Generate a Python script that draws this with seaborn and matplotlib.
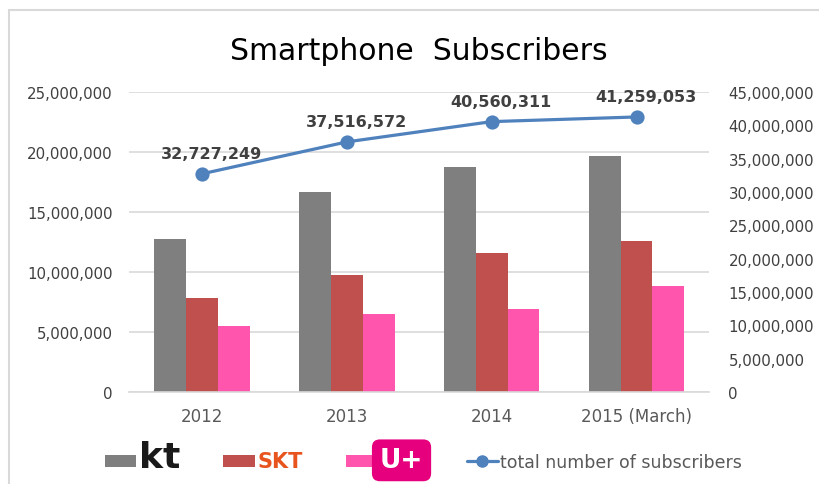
import numpy as np
import pandas as pd
import matplotlib
matplotlib.use("Agg")
import matplotlib.pyplot as plt
import seaborn as sns
from matplotlib.patches import Patch, Rectangle
from matplotlib.lines import Line2D
from matplotlib.ticker import FuncFormatter, MultipleLocator

# ---- data ----
years = ["2012", "2013", "2014", "2015 (March)"]
carriers = ["kt", "SKT", "U+"]
kt_subs = [12750000, 16700000, 18780000, 19690000]
skt_subs = [7800000, 9720000, 11580000, 12580000]
lgu_subs = [5530000, 6530000, 6890000, 8800000]
totals = [32727249, 37516572, 40560311, 41259053]
total_label = "total number of subscribers"
title = "Smartphone  Subscribers"

bar_colors = ["#7F7F7F", "#C0504D", "#FF55AC"]
line_color = "#4F81BD"

df = pd.DataFrame({
    "year": years * 3,
    "carrier": np.repeat(carriers, len(years)),
    "subs": kt_subs + skt_subs + lgu_subs,
})

sns.set_style("white")
plt.rcParams["font.family"] = ["DejaVu Sans"]

fig = plt.figure(figsize=(8.2, 4.85), dpi=100)
ax = fig.add_axes([0.1579, 0.1897, 0.7067, 0.6185])

sns.barplot(data=df, x="year", y="subs", hue="carrier", palette=bar_colors,
            width=0.66, gap=0, saturation=1, ax=ax, legend=False,
            edgecolor="none", linewidth=0, errorbar=None)
ax.set_ylim(0, 25000000)
ax.yaxis.set_major_locator(MultipleLocator(5000000))
fmt = FuncFormatter(lambda v, _: f"{int(round(v)):,}")
ax.yaxis.set_major_formatter(fmt)
ax.set_xlabel("")
ax.set_ylabel("")
ax.grid(axis="y", color="#D9D9D9", linewidth=1.2)
ax.set_axisbelow(True)
for s in ["top", "left", "right"]:
    ax.spines[s].set_visible(False)
ax.spines["bottom"].set_color("#D9D9D9")
ax.spines["bottom"].set_linewidth(1.2)
ax.tick_params(axis="y", length=0, pad=12, labelsize=10.8, labelcolor="#404040")
ax.tick_params(axis="x", length=0, pad=11, labelsize=12, labelcolor="#595959")

ax2 = ax.twinx()
sns.pointplot(x=years, y=totals, ax=ax2, color=line_color, errorbar=None,
              markers="o", linestyles="-", linewidth=2.3, markersize=8.5)
ax2.set_ylim(0, 45000000)
ax2.yaxis.set_major_locator(MultipleLocator(5000000))
ax2.yaxis.set_major_formatter(fmt)
ax2.set_ylabel("")
ax2.set_xlim(-0.5, len(years) - 0.5)
ax2.grid(False)
for s in ["top", "left", "right", "bottom"]:
    ax2.spines[s].set_visible(False)
ax2.tick_params(axis="y", length=0, pad=14, labelsize=10.8, labelcolor="#404040")
for lab in ax2.get_yticklabels():
    lab.set_horizontalalignment("left")

for i, v in enumerate(totals):
    ax2.annotate(f"{v:,}", (i, v), xytext=(7, 14.5), textcoords="offset points",
                 ha="center", va="center", fontsize=11.5, fontweight="bold",
                 color="#404040")

fig.text(0.511, 0.876, title, ha="center", va="baseline", fontsize=21.5,
         color="#000000")

handles = [Patch(facecolor=c, edgecolor="none") for c in bar_colors]
handles.append(Line2D([0], [0], color=line_color, lw=2.3, marker="o",
                      markersize=8))
labels = carriers + [total_label]
leg = fig.legend(handles, labels, loc="center", bbox_to_anchor=(0.5165, 0.055),
                 ncol=4, frameon=False, fontsize=12.5, handlelength=1.8,
                 handleheight=0.7, handletextpad=0.15, columnspacing=2.5)
texts = leg.get_texts()
texts[0].set_fontsize(26)
texts[0].set_fontweight("bold")
texts[0].set_color("#1A1A1A")
texts[1].set_fontsize(15)
texts[1].set_fontweight("bold")
texts[1].set_color("#E8541E")
texts[2].set_fontsize(19)
texts[2].set_fontweight("bold")
texts[2].set_color("white")
texts[2].set_bbox(dict(boxstyle="round,pad=0.3", fc="#E6007E", ec="none"))
texts[3].set_color("#595959")

# chart border (light gray frame)
fig.patches.append(Rectangle((9 / 820, -0.05), 1.2, (485 - 11) / 485 + 0.05,
                             transform=fig.transFigure, fill=False,
                             edgecolor="#D9D9D9", linewidth=1.5))

fig.savefig("out.png", dpi=100)
